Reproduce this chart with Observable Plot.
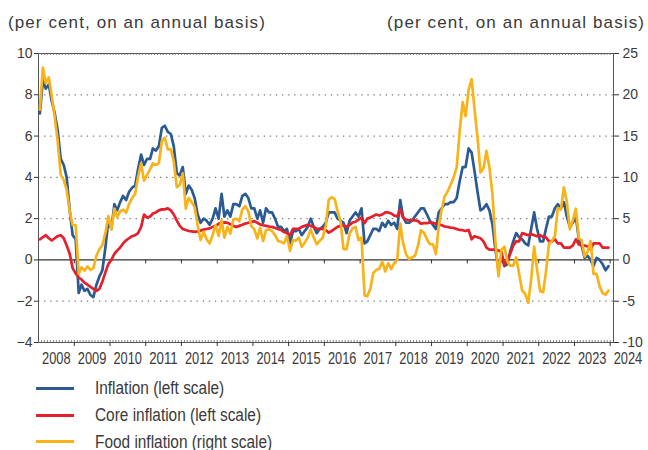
<!DOCTYPE html>
<html>
<head>
<meta charset="utf-8">
<script src="https://cdn.jsdelivr.net/npm/d3@7"></script>
<script src="https://cdn.jsdelivr.net/npm/@observablehq/plot@0.6"></script>
<style>
  body { margin: 0; background: #fff; }
  #wrap { position: relative; width: 648px; height: 450px; overflow: hidden; font-family: "Liberation Sans", Arial, sans-serif; color: #3a3a3a; }
  #chart { position: absolute; left: 0; top: 0; }
  .hdr { position: absolute; top: 13px; font-size: 17px; letter-spacing: 1.1px; line-height: 20px; color: #3a3a3a; white-space: nowrap; }
  .leg { position: absolute; left: 0; height: 16px; width: 400px; }
  .leg .sw { position: absolute; left: 36px; top: 6.5px; width: 38px; height: 3px; }
  .leg .tx { position: absolute; left: 95px; top: 0; font-size: 17.5px; line-height: 16px; white-space: nowrap; transform: scaleX(0.88); transform-origin: 0 50%; }
</style>
</head>
<body>
<div id="wrap">
  <div id="chart"></div>
  <div class="hdr" style="left:8px;">(per cent, on an annual basis)</div>
  <div class="hdr" style="right:3px;">(per cent, on an annual basis)</div>
  <div id="legend"></div>
</div>
<script>
// Monthly series, January 2008 – December 2023 (per cent, y-o-y)
const startYear = 2008;
const inflation = [
  7.1, 8.7, 8.3, 8.5, 7.7, 7.1, 6.3, 4.9, 4.6, 4.0, 2.4, 1.2,
  1.0, -1.6, -1.2, -1.5, -1.4, -1.7, -1.8, -1.2, -0.8, -0.5, 0.6, 1.9,
  1.5, 2.7, 2.4, 2.8, 3.1, 2.9, 3.3, 3.5, 3.6, 4.4, 5.1, 4.6,
  4.9, 4.9, 5.4, 5.3, 5.5, 6.4, 6.5, 6.2, 6.1, 5.5, 4.2, 4.1,
  4.5, 3.2, 3.6, 3.4, 3.0, 2.2, 1.8, 2.0, 1.9, 1.7, 2.0, 2.5,
  2.0, 3.2, 2.1, 2.4, 2.1, 2.7, 2.7, 2.6, 3.1, 3.2, 3.0, 2.5,
  2.5, 2.0, 2.4, 1.8, 2.5, 2.3, 2.3, 2.0, 1.6, 1.6, 1.4, 1.5,
  0.8, 1.4, 1.4, 1.5, 1.2, 1.4, 1.6, 2.0, 1.6, 1.3, 1.5, 1.6,
  1.8, 2.3, 2.3, 2.3, 2.0, 1.9, 1.8, 1.3, 1.9, 2.1, 2.3, 2.1,
  2.5, 0.8, 0.9, 1.2, 1.5, 1.5, 1.4, 1.8, 1.6, 1.9, 1.7, 1.8,
  1.5, 2.9, 2.1, 1.8, 1.8, 1.9, 2.1, 2.3, 2.5, 2.5, 2.2, 1.9,
  1.7, 1.5, 2.3, 2.5, 2.7, 2.7, 2.8, 2.8, 3.0, 3.8, 4.5, 4.5,
  5.4, 5.2, 4.3, 3.3, 2.4, 2.5, 2.7, 2.4, 1.7, 0.5, -0.5, 0.2,
  -0.3, -0.2, 0.4, 0.9, 1.3, 1.1, 1.0, 0.8, 0.7, 1.5, 2.3, 1.5,
  0.9, 0.9, 1.5, 2.1, 2.1, 2.5, 2.7, 2.5, 2.8, 2.1, 1.6, 1.8,
  2.1, 1.0, 0.7, 0.1, 0.2, 0.0, -0.3, 0.1, 0.0, -0.2, -0.5, -0.3
];
const coreInflation = [
  1.0, 1.1, 1.2, 1.05, 0.95, 1.05, 1.15, 1.2, 1.05, 0.7, 0.3, -0.4,
  -0.65, -0.85, -0.95, -1.1, -1.2, -1.3, -1.4, -1.5, -1.4, -1.05, -0.6, -0.2,
  0.0, 0.3, 0.45, 0.6, 0.8, 0.95, 1.05, 1.15, 1.2, 1.3, 1.6, 2.2,
  2.05, 2.1, 2.25, 2.3, 2.4, 2.45, 2.45, 2.5, 2.4, 2.2, 1.9, 1.65,
  1.5, 1.45, 1.4, 1.38, 1.36, 1.38, 1.42, 1.47, 1.5, 1.53, 1.6, 1.65,
  1.75, 1.8, 1.82, 1.8, 1.73, 1.65, 1.6, 1.65, 1.7, 1.76, 1.8, 1.83,
  1.88, 1.8, 1.72, 1.68, 1.65, 1.62, 1.6, 1.55, 1.5, 1.45, 1.35, 1.3,
  1.2, 1.5, 1.5, 1.5, 1.6, 1.65, 1.7, 1.65, 1.6, 1.5, 1.5, 1.5,
  1.45, 1.32, 1.4, 1.5, 1.6, 1.65, 1.68, 1.6, 1.7, 1.81, 1.85, 1.95,
  2.05, 1.78, 2.0, 2.05, 2.13, 2.2, 2.15, 2.2, 2.3, 2.3, 2.25, 2.15,
  2.1, 2.45, 2.05, 1.95, 1.92, 1.92, 1.92, 1.88, 1.75, 1.78, 1.78, 1.82,
  1.8, 1.75, 1.72, 1.68, 1.62, 1.6, 1.56, 1.55, 1.5, 1.45, 1.44, 1.4,
  1.45, 1.0, 1.15, 1.1, 1.05, 0.9, 0.6, 0.5, 0.5, 0.5, 0.45, 0.4,
  -0.25, 0.0, 0.3, 0.7, 0.9, 0.9, 1.3, 1.25, 1.2, 1.25, 1.2, 1.15,
  1.2, 1.1, 1.1, 0.9, 0.9, 1.0, 0.8, 0.8, 0.6, 0.6, 0.6, 0.7,
  1.0, 0.75, 0.7, 0.7, 0.65, 0.5, 0.8, 0.8, 0.8, 0.6, 0.6, 0.6
];
const foodInflation = [
  18.2, 23.3, 21.4, 22.1, 19.9, 17.3, 14.4, 10.3, 9.7, 8.5, 5.9, 4.2,
  4.2, -1.7, -0.9, -1.3, -0.8, -1.2, -1.0, 0.5, 1.3, 1.8, 3.3, 5.3,
  3.7, 6.2, 5.2, 5.9, 6.1, 5.7, 6.8, 7.5, 8.0, 10.1, 11.7, 9.6,
  10.3, 11.0, 11.7, 11.5, 11.7, 14.4, 14.8, 13.4, 13.4, 11.9, 8.8, 9.1,
  10.5, 6.2, 7.5, 7.0, 6.4, 4.2, 2.4, 3.4, 2.5, 2.0, 3.0, 4.2,
  2.9, 4.8, 2.7, 4.0, 3.2, 4.9, 5.0, 4.7, 6.1, 6.5, 5.9, 4.1,
  3.7, 2.6, 3.9, 2.3, 3.6, 3.7, 3.5, 3.0, 2.3, 2.2, 2.0, 2.9,
  1.1, 2.4, 2.3, 2.7, 1.6, 2.1, 2.7, 3.7, 2.7, 1.9, 2.3, 2.7,
  4.1, 7.3, 7.6, 7.4, 5.9, 4.6, 1.3, 1.3, 3.2, 3.8, 4.0, 2.4,
  2.7, -4.3, -4.4, -3.5, -1.6, -1.2, -1.1, -0.2, -1.4, -0.4, -1.1, -0.4,
  0.0, 4.4, 2.1, 0.7, 0.1, 0.3, 0.5, 1.7, 3.6, 3.3, 2.5, 1.9,
  1.9, 0.7, 4.1, 6.1, 7.7, 8.3, 9.1, 10.0, 11.2, 15.5, 19.1, 17.4,
  20.6, 21.9, 18.3, 14.8, 10.6, 11.1, 13.2, 11.2, 7.9, 2.2, -2.0, 1.2,
  1.6, -0.2, -0.7, -0.7, 0.3, -1.7, -3.7, -4.1, -5.2, -2.4, 1.6, -1.2,
  -3.8, -3.9, -1.5, 1.9, 2.3, 2.9, 6.3, 6.1, 8.8, 7.0, 3.7, 4.8,
  6.2, 2.6, 2.4, 0.4, 1.0, 2.3, -1.7, -1.7, -3.2, -4.0, -4.2, -3.7
];
const yearLabels = [2008, 2009, 2010, 2011, 2012, 2013, 2014, 2015, 2016, 2017, 2018, 2019, 2020, 2021, 2022, 2023, 2024];
const leftTicks = [-4, -2, 0, 2, 4, 6, 8, 10];
const gridLines = [-2, 2, 4, 6, 8];
const rightScaleFactor = 2.5; // right axis = 2.5 × left axis
const seriesNames = ["Inflation (left scale)", "Core inflation (left scale)", "Food inflation (right scale)"];
const seriesColors = ["#2c5a93", "#e3202b", "#f8b31b"];

const date = (i) => new Date(Date.UTC(startYear, i, 15));
const rows = [];
inflation.forEach((v, i) => rows.push({series: 0, date: date(i), value: v}));
coreInflation.forEach((v, i) => rows.push({series: 1, date: date(i), value: v}));
foodInflation.forEach((v, i) => rows.push({series: 2, date: date(i), value: v / rightScaleFactor}));

const yearStarts = yearLabels.slice(1).map(y => new Date(Date.UTC(y, 0, 1)));
const monthStarts = d3.utcMonth.range(new Date(Date.UTC(2008, 0, 1)), new Date(Date.UTC(2024, 1, 1)));

const txt = "#3a3a3a";
const chart = Plot.plot({
  width: 648,
  height: 372,
  marginLeft: 38,
  marginRight: 35,
  marginTop: 53,
  marginBottom: 30,
  style: {fontFamily: '"Liberation Sans", Arial, sans-serif', fontSize: "14px", color: txt, background: "white", overflow: "visible"},
  x: {type: "utc", domain: [new Date(Date.UTC(2008, 0, 1)), new Date(Date.UTC(2024, 1, 4))], axis: null},
  y: {domain: [-4, 10]},
  marks: [
    Plot.ruleY(gridLines, {stroke: "#777", strokeWidth: 1.2, strokeDasharray: "1.3,4.8"}),
    Plot.frame({stroke: "#555", strokeWidth: 1}),
    Plot.ruleX(monthStarts, {x: d => d, y1: -4, y2: -4, insetTop: -2, stroke: "#666", strokeWidth: 0.8}),
    Plot.ruleX(monthStarts, {x: d => d, y1: 10, y2: 10, insetBottom: -2, stroke: "#666", strokeWidth: 0.8}),
    Plot.ruleX(yearStarts, {x: d => d, y1: -4, y2: -4, insetBottom: -4, stroke: "#333", strokeWidth: 1}),
    Plot.ruleY([0], {stroke: "#333", strokeWidth: 1.3}),
    Plot.ruleX(yearStarts, {x: d => d, y1: 0, y2: 0, insetBottom: -4, stroke: "#333", strokeWidth: 1}),
    Plot.axisY({anchor: "left", ticks: leftTicks, tickSize: 4, tickPadding: 2, label: null, fontSize: 14, stroke: "#333"}),
    Plot.axisY({anchor: "right", ticks: leftTicks, tickFormat: d => d * rightScaleFactor, tickSize: 5, tickPadding: 4, label: null, fontSize: 14, stroke: "#333"}),
    Plot.text(yearLabels, {x: y => new Date(Date.UTC(y, 6, 1)), y: -4, dy: 16, text: y => String(y), fontSize: 16, fill: txt, className: "yearlab"}),
    Plot.line(rows, {filter: d => d.series === 0, x: "date", y: "value", stroke: seriesColors[0], strokeWidth: 2.7}),
    Plot.line(rows, {filter: d => d.series === 1, x: "date", y: "value", stroke: seriesColors[1], strokeWidth: 2.7}),
    Plot.line(rows, {filter: d => d.series === 2, x: "date", y: "value", stroke: seriesColors[2], strokeWidth: 2.7})
  ]
});
// condense the year labels, as in the reference's narrow type
d3.select(chart).selectAll(".yearlab text").attr("textLength", 28.5).attr("lengthAdjust", "spacingAndGlyphs");
document.getElementById("chart").appendChild(chart);

const legend = document.getElementById("legend");
const legendTops = [380, 407, 433.5];
seriesNames.forEach((name, i) => {
  const row = document.createElement("div");
  row.className = "leg";
  row.style.top = legendTops[i] + "px";
  row.innerHTML = `<div class="sw" style="background:${seriesColors[i]}"></div><div class="tx">${name}</div>`;
  legend.appendChild(row);
});
</script>
</body>
</html>
